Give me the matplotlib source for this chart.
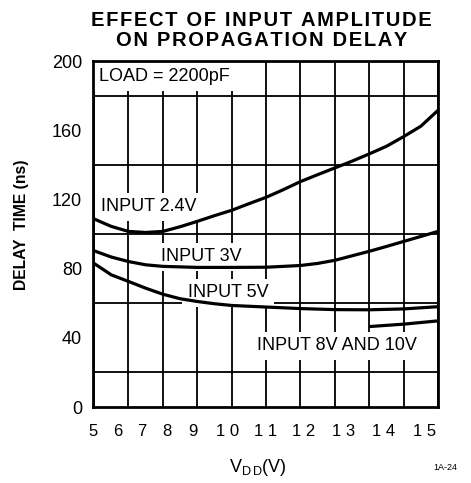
import numpy as np
import matplotlib.pyplot as plt

plt.rcParams['font.family'] = ['Liberation Sans', 'DejaVu Sans']

# curves (VDD in V, delay in ns)
vdd_24 = [5, 5.5, 6, 6.5, 7, 7.5, 8, 8.5, 9, 9.5, 10, 10.5, 11, 11.5, 12, 12.5, 13, 13.5, 14, 14.5, 15]
delay_24 = [108.7, 104.4, 101.5, 100.9, 101.5, 104.2, 107.3, 110.6, 113.7, 117.5, 121.2,
            125.6, 130.3, 134.3, 138.2, 142.1, 146.3, 150.7, 156.3, 162.3, 171.5]

vdd_3 = [5, 5.5, 6, 6.5, 7, 8, 9, 10, 11, 11.5, 12, 12.5, 13, 13.5, 14, 14.5, 15]
delay_3 = [90.3, 86.7, 84.1, 82.2, 81.3, 80.7, 80.7, 80.8, 81.8, 83, 84.8, 87.4,
           90, 92.8, 95.7, 98.6, 101.5]

vdd_5 = [5, 5.5, 6, 6.5, 7, 7.5, 8, 8.5, 9, 10, 11, 12, 13, 14, 15]
delay_5 = [83, 76.4, 72.6, 68.7, 65.2, 62.6, 61, 59.7, 58.7, 57.8, 56.9, 56.3, 56.2, 56.7, 58]

vdd_810 = [13, 14, 15]
delay_810 = [46.5, 47.9, 49.8]

xtick_labels = ['5', '6', '7', '8', '9', '1 0', '1 1', '1 2', '1 3', '1 4', '1 5']
# label positions as printed (they do not sit on the grid lines)
xtick_pos = [4.97, 5.70, 6.38, 7.13, 7.87, 8.88, 9.99, 11.09, 12.25, 13.43, 14.62]
ytick_vals = [0, 40, 80, 120, 160, 200]

fig = plt.figure(figsize=(4.71, 4.83), dpi=100)
ax = fig.add_axes([0.1975, 0.1573, 0.7325, 0.7164])

ax.set_xlim(5, 15)
ax.set_ylim(0, 200)

ax.set_xticks(np.arange(5, 16, 1), minor=True)
ax.set_yticks(np.arange(0, 201, 20), minor=True)
ax.grid(which='minor', color='black', lw=1.3, zorder=1)
ax.grid(which='major', visible=False)
ax.set_axisbelow(True)

ax.set_xticks(xtick_pos, xtick_labels, fontsize=12)
ax.set_yticks(ytick_vals, [str(v) for v in ytick_vals], fontsize=13)
ax.tick_params(which='both', length=0)
ax.tick_params(axis='x', pad=12)
ax.tick_params(axis='y', pad=8)

for s in ax.spines.values():
    s.set_linewidth(2)
    s.set_zorder(6)

# curves
for xs, ys in [(vdd_24, delay_24), (vdd_3, delay_3), (vdd_5, delay_5), (vdd_810, delay_810)]:
    ax.plot(xs, ys, color='black', lw=2.3, zorder=5, solid_capstyle='butt', solid_joinstyle='round')

box = dict(facecolor='white', edgecolor='none', pad=4)
ax.text(5.15, 191, 'LOAD = 2200pF', fontsize=13, va='center', ha='left', bbox=box, zorder=3)
ax.text(5.2, 115.8, 'INPUT 2.4V', fontsize=13, va='center', ha='left', bbox=box, zorder=3)
ax.text(6.94, 86.9, 'INPUT 3V', fontsize=13, va='center', ha='left', bbox=box, zorder=3)
ax.text(7.72, 66, 'INPUT 5V', fontsize=13, va='center', ha='left', bbox=box, zorder=3)
ax.text(9.75, 35.3, 'INPUT 8V AND 10V', fontsize=13, va='center', ha='left', bbox=box, zorder=3)

ax.set_ylabel('DELAY  TIME (ns)', fontsize=11.3, fontweight='bold')
ax.yaxis.set_label_coords(-0.185, 0.526)

hs = '\u200a'
title1 = hs.join('EFFECT OF INPUT AMPLITUDE')
title2 = hs.join('ON PROPAGATION DELAY')
fig.text(0.555, 0.958, title1, fontsize=14.5, fontweight='bold', ha='center', va='center')
fig.text(0.555, 0.917, title2, fontsize=14.5, fontweight='bold', ha='center', va='center')
fig.text(0.548, 0.033, r'V$_{\mathregular{D\,D}}$(V)', fontsize=13, ha='center', va='center')
fig.text(0.945, 0.033, '1A-24', fontsize=6.5, ha='center', va='center')

fig.savefig('out.png', dpi=100)
